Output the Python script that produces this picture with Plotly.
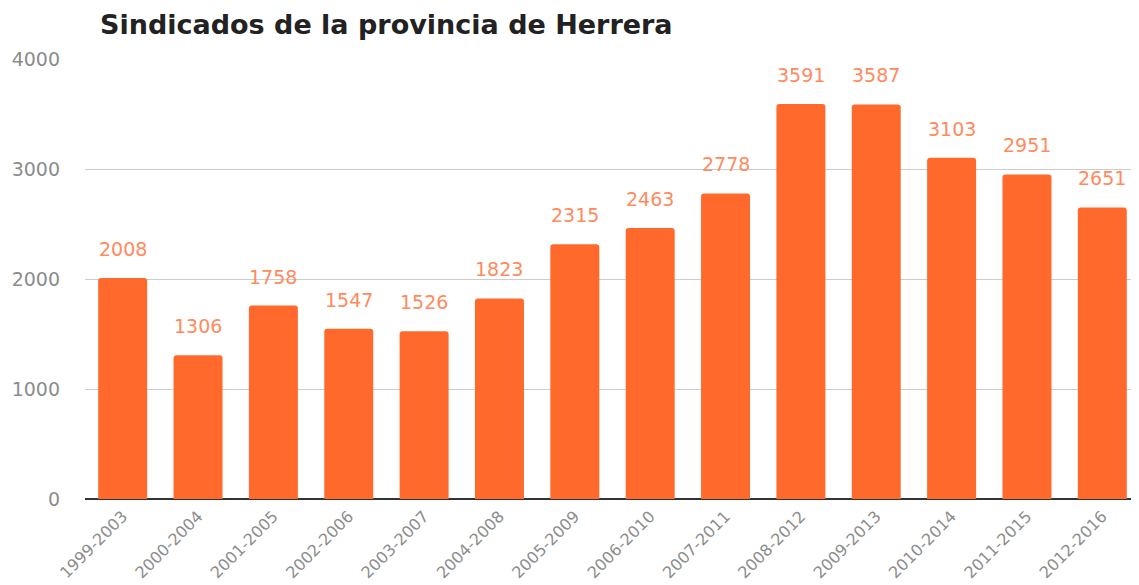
import plotly.graph_objects as go

categories = ["1999-2003", "2000-2004", "2001-2005", "2002-2006", "2003-2007", "2004-2008",
              "2005-2009", "2006-2010", "2007-2011", "2008-2012", "2009-2013", "2010-2014",
              "2011-2015", "2012-2016"]
values = [2008, 1306, 1758, 1547, 1526, 1823, 2315, 2463, 2778, 3591, 3587, 3103, 2951, 2651]
y_ticks = [0, 1000, 2000, 3000, 4000]

bar_color = "#FF6A2C"
label_color = "#FF8A5E"
tick_color = "#8C8C8C"

fig = go.Figure()
fig.add_trace(go.Bar(
    x=categories, y=values,
    marker=dict(color=bar_color, cornerradius=3, line=dict(width=0)),
    hoverinfo="x+y",
))

for c, v in zip(categories, values):
    fig.add_annotation(x=c, y=v, text=str(v), showarrow=False, yanchor="bottom",
                       yshift=16, font=dict(family="DejaVu Sans", size=19, color=label_color))

fig.update_layout(
    width=1139, height=585,
    margin=dict(l=77, r=7, t=51, b=94),
    paper_bgcolor="white", plot_bgcolor="white",
    bargap=0.35,
    showlegend=False,
    title=dict(text="<b>Sindicados de la provincia de Herrera</b>", x=92/1139, xanchor="left",
               y=1 - 17/585, yanchor="middle",
               font=dict(family="DejaVu Sans", size=27, color="#222222")),
    xaxis=dict(tickangle=-45, tickfont=dict(family="DejaVu Sans", size=16, color=tick_color),
               showgrid=False, showline=False, ticks="", ticklabelstandoff=4, automargin=False),
    yaxis=dict(range=[0, 4000], tickvals=y_ticks, ticktext=[str(t) for t in y_ticks],
               tickfont=dict(family="DejaVu Sans", size=19, color=tick_color),
               showgrid=True, gridcolor="#CCCCCC", gridwidth=1,
               zeroline=True, zerolinecolor="#333333", zerolinewidth=1.5,
               ticklabelstandoff=24, showline=False, ticks="", automargin=False),
)

fig.write_html("out.html")
